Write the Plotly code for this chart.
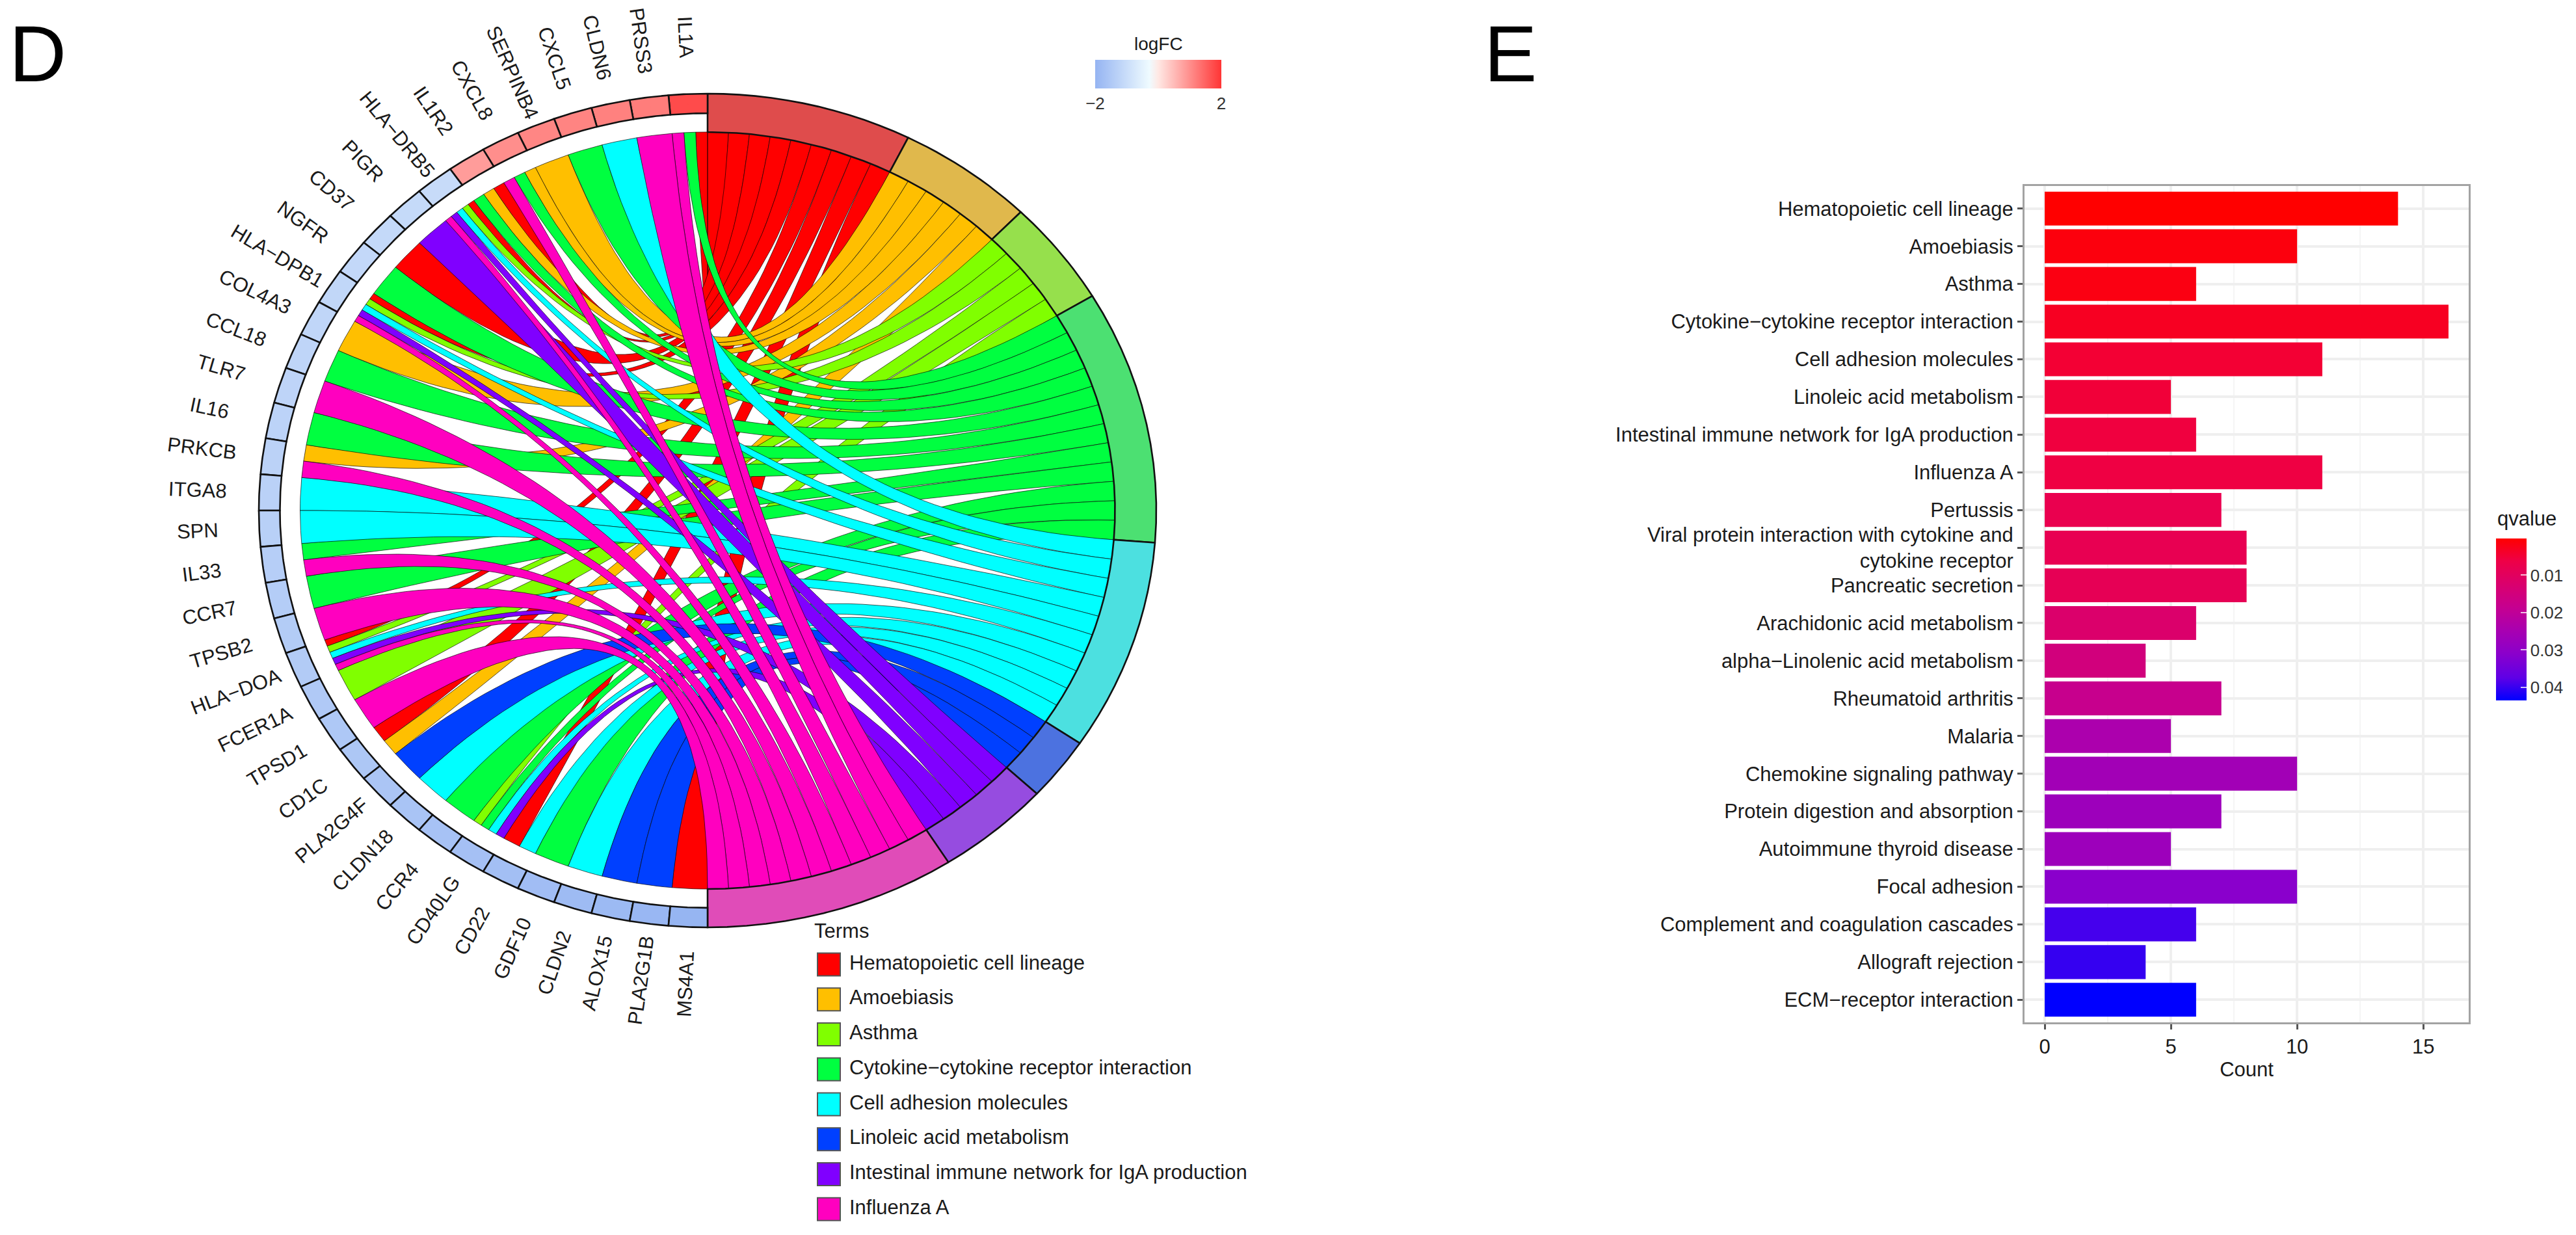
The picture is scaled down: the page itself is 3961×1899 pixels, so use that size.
import numpy as np
import plotly.graph_objects as go
from plotly.colors import sample_colorscale

W, H = 3961, 1899
FONT = "Liberation Sans"
TXT = "#1a1a1a"

# ---------- chord data ----------
genes = ["IL1A", "PRSS3", "CLDN6", "CXCL5", "SERPINB4", "CXCL8", "IL1R2", "HLA−DRB5", "PIGR", "CD37", "NGFR",
         "HLA−DPB1", "COL4A3", "CCL18", "TLR7", "IL16", "PRKCB", "ITGA8", "SPN", "IL33", "CCR7", "TPSB2",
         "HLA−DOA", "FCER1A", "TPSD1", "CD1C", "PLA2G4F", "CLDN18", "CCR4", "CD40LG", "CD22", "GDF10",
         "CLDN2", "ALOX15", "PLA2G1B", "MS4A1"]
logfc = [1.75, 1.2, 1.15, 1.12, 1.1, 1.0, 0.85,
         -1.05, -1.08, -1.1, -1.13, -1.15, -1.18, -1.2, -1.22, -1.25, -1.28, -1.3, -1.33, -1.36, -1.4, -1.42,
         -1.45, -1.48, -1.52, -1.55, -1.58, -1.62, -1.66, -1.7, -1.74, -1.78, -1.82, -1.86, -1.92, -1.98]
terms = ["Hematopoietic cell lineage", "Amoebiasis", "Asthma", "Cytokine−cytokine receptor interaction",
         "Cell adhesion molecules", "Linoleic acid metabolism", "Intestinal immune network for IgA production",
         "Influenza A"]
term_colors = ["#FF0000", "#FFBF00", "#80FF00", "#00FF40", "#00FFFF", "#0040FF", "#8000FF", "#FF00BF"]
ring_colors = ["#DF4C4C", "#E0B84C", "#96E04C", "#4CE072", "#4CE0E0", "#4C72E0", "#964CE0", "#E04CB8"]
hema = ["IL1A", "IL1R2", "HLA−DRB5", "CD37", "HLA−DPB1", "HLA−DOA", "CD1C", "CD22", "MS4A1"]
amoeb = ["SERPINB4", "CXCL8", "IL1R2", "COL4A3", "PRKCB", "CD1C"]
asthma = ["HLA−DRB5", "HLA−DPB1", "HLA−DOA", "FCER1A", "CD40LG"]
cytokine = ["IL1A", "CXCL5", "CXCL8", "IL1R2", "NGFR", "CCL18", "IL16", "IL33", "CCR7", "CCR4", "CD40LG", "GDF10"]
cam = ["CLDN6", "HLA−DRB5", "HLA−DPB1", "ITGA8", "SPN", "HLA−DOA", "CLDN18", "CD40LG", "CD22", "CLDN2"]
linoleic = ["PLA2G4F", "ALOX15", "PLA2G1B"]
iga = ["HLA−DRB5", "PIGR", "HLA−DPB1", "HLA−DOA", "CD40LG"]
flu = ["IL1A", "PRSS3", "CXCL8", "HLA−DRB5", "HLA−DPB1", "TLR7", "PRKCB", "IL33", "TPSB2", "HLA−DOA", "TPSD1"]
members = [hema, amoeb, asthma, cytokine, cam, linoleic, iga, flu]

# ---------- bar data ----------
bar_terms = ["Hematopoietic cell lineage", "Amoebiasis", "Asthma", "Cytokine−cytokine receptor interaction",
             "Cell adhesion molecules", "Linoleic acid metabolism", "Intestinal immune network for IgA production",
             "Influenza A", "Pertussis", "Viral protein interaction with cytokine and<br>cytokine receptor",
             "Pancreatic secretion", "Arachidonic acid metabolism", "alpha−Linolenic acid metabolism",
             "Rheumatoid arthritis", "Malaria", "Chemokine signaling pathway", "Protein digestion and absorption",
             "Autoimmune thyroid disease", "Focal adhesion", "Complement and coagulation cascades",
             "Allograft rejection", "ECM−receptor interaction"]
bar_count = [14, 10, 6, 16, 11, 5, 6, 11, 7, 8, 8, 6, 4, 7, 5, 10, 7, 5, 10, 6, 4, 6]
bar_q = [0.0001, 0.0012, 0.0016, 0.003, 0.0045, 0.005, 0.0055, 0.0058, 0.0075, 0.008, 0.0085, 0.012, 0.015,
         0.018, 0.024, 0.026, 0.027, 0.027, 0.031, 0.039, 0.04, 0.0434]
q_ticks = [0.01, 0.02, 0.03, 0.04]

logfc_scale = [[0, "#95B4F2"], [0.43, "#EFFBFF"], [0.5, "#FFE8E4"], [1, "#FF3535"]]
# low q (red) sits at the top of the colour bar, so the bar runs on -q
q_scale = [[0, "#0000FF"], [0.14, "#5F00E6"], [0.29, "#8B00CB"], [0.43, "#A800B1"],
           [0.57, "#C50091"], [0.71, "#D9006F"], [0.86, "#EE0047"], [1, "#FF0000"]]

R_OUT, R_GENE, R_IN = 1.0, 0.953, 0.908


def pt(t, r):
    t = np.radians(t)
    return r * np.sin(t), r * np.cos(t)


def arc(t0, t1, r, n=14):
    return pt(np.linspace(t0, t1, n), r)


def bez(p0, p1, n=50):
    s = np.linspace(0, 1, n)
    return (1 - s) ** 2 * p0[0] + s ** 2 * p1[0], (1 - s) ** 2 * p0[1] + s ** 2 * p1[1]


def cell(t0, t1, r0, r1):
    x0, y0 = arc(t0, t1, r1)
    x1, y1 = arc(t1, t0, r0)
    return np.r_[x0, x1, x0[0]], np.r_[y0, y1, y0[0]]


fig = go.Figure()
XA = dict(xaxis="x", yaxis="y")
n_g = len(genes)
n_s = sum(len(m) for m in members)
g_step = 180.0 / n_g
t_step = 180.0 / n_s

g_terms = {g: [i for i, m in enumerate(members) if g in m] for g in genes}

# ribbons
start = 0
term_spans = []
for ti, m in enumerate(members):
    term_spans.append((start * t_step, (start + len(m)) * t_step))
    ordered = [g for g in genes if g in m]
    for k, g in enumerate(ordered):
        b1, b2 = (start + k) * t_step, (start + k + 1) * t_step
        gi = genes.index(g)
        pos = g_terms[g].index(ti)
        w = g_step / len(g_terms[g])
        a1, a2 = -(gi * g_step + pos * w), -(gi * g_step + (pos + 1) * w)
        ax, ay = arc(a1, a2, R_IN, 6)
        tx, ty = arc(b2, b1, R_IN, 6)
        cx1, cy1 = bez(pt(a2, R_IN), pt(b2, R_IN))
        cx2, cy2 = bez(pt(b1, R_IN), pt(a1, R_IN))
        fig.add_trace(go.Scatter(x=np.r_[ax, cx1, tx, cx2], y=np.r_[ay, cy1, ty, cy2], mode="lines", fill="toself",
                                 fillcolor=term_colors[ti], line=dict(color="rgba(0,0,0,0.65)", width=1),
                                 hoverinfo="skip", showlegend=False, **XA))
    start += len(m)

# term ring
for ti, (t0, t1) in enumerate(term_spans):
    x, y = cell(t0, t1, R_IN, R_OUT)
    fig.add_trace(go.Scatter(x=x, y=y, mode="lines", fill="toself", fillcolor=ring_colors[ti],
                             line=dict(color="#111111", width=2.6), hoverinfo="skip", showlegend=False, **XA))

# gene ring + labels
gene_cols = sample_colorscale(logfc_scale, [(v + 2) / 4 for v in logfc])
RX, RY = 690.0, 641.0
R_LAB = 1.137
annots = []
for gi, g in enumerate(genes):
    x, y = cell(-gi * g_step, -(gi + 1) * g_step, R_GENE, R_OUT)
    fig.add_trace(go.Scatter(x=x, y=y, mode="lines", fill="toself", fillcolor=gene_cols[gi],
                             line=dict(color="#111111", width=2.6), hoverinfo="skip", showlegend=False, **XA))
    mid = -(gi + 0.5) * g_step
    lx, ly = pt(mid, R_LAB)
    ang = np.degrees(np.arctan2(RY * np.cos(np.radians(mid)), -RX * np.sin(np.radians(mid))))
    annots.append(dict(x=lx, y=ly, xref="x", yref="y", text=g, textangle=ang, showarrow=False,
                       xanchor="center", yanchor="middle", font=dict(family=FONT, size=31, color=TXT)))

# logFC scale: markers sit on the gene ring cells, they carry the colour bar
gx, gy = pt(-(np.arange(n_g) + 0.5) * g_step, (R_OUT + R_GENE) / 2)
fig.add_trace(go.Scatter(
    x=gx, y=gy, mode="markers", hoverinfo="skip", showlegend=False,
    marker=dict(size=2, color=logfc, colorscale=logfc_scale, cmin=-2, cmax=2, showscale=True,
                colorbar=dict(orientation="h", x=1684 / W, xanchor="left", y=1 - 92 / H, yanchor="top",
                              lenmode="pixels", len=194, thicknessmode="pixels", thickness=44,
                              xpad=0, ypad=0, outlinewidth=0, ticks="", tickvals=[-2, 2],
                              tickfont=dict(family=FONT, size=26, color="#333333"))),
    **XA))
annots.append(dict(x=1781 / W, y=1 - 67 / H, xref="paper", yref="paper", text="logFC", showarrow=False,
                   xanchor="center", yanchor="middle", font=dict(family=FONT, size=28, color=TXT)))

# Terms legend
fig.add_trace(go.Scatter(x=[34.5] * len(terms), y=terms, xaxis="x3", yaxis="y3", mode="markers", cliponaxis=False,
                         marker=dict(symbol="square", size=35, color=term_colors, line=dict(color="#555555", width=2)),
                         hoverinfo="skip", showlegend=False))
fig.add_trace(go.Scatter(x=[66] * len(terms), y=terms, xaxis="x3", yaxis="y3", mode="text", cliponaxis=False,
                         text=terms, textposition="middle right",
                         textfont=dict(family=FONT, size=31, color=TXT), hoverinfo="skip", showlegend=False))
annots.append(dict(x=1250 / W, y=1 - 1431 / H, xref="paper", yref="paper", text="Terms", showarrow=False,
                   xanchor="left", yanchor="middle", font=dict(family=FONT, size=31, color=TXT)))

# bars
fig.add_trace(go.Bar(x=bar_count, y=bar_terms, orientation="h", xaxis="x2", yaxis="y2", width=0.9,
                     marker=dict(color=[-q for q in bar_q], colorscale=q_scale, cmin=-0.0434, cmax=-0.0001,
                                 line=dict(width=0),
                                 colorbar=dict(x=3838 / W, xanchor="left", y=1 - 952 / H, yanchor="middle",
                                               lenmode="pixels", len=249, thicknessmode="pixels", thickness=47,
                                               xpad=0, ypad=0, outlinewidth=0, ticks="inside", ticklen=9,
                                               tickcolor="rgba(255,255,255,0.75)", tickwidth=2,
                                               tickvals=[-q for q in q_ticks], ticktext=[f"{q:.2f}" for q in q_ticks],
                                               tickfont=dict(family=FONT, size=26, color="#333333"))),
                     hoverinfo="skip", showlegend=False))
annots.append(dict(x=3838 / W, y=1 - 797 / H, xref="paper", yref="paper", text="qvalue", showarrow=False,
                   xanchor="left", yanchor="middle", font=dict(family=FONT, size=31, color=TXT)))

# panel letters
for letter, lx, ly in [("D", 12, 83), ("E", 2280, 83)]:
    annots.append(dict(x=lx / W, y=1 - ly / H, xref="paper", yref="paper", text=letter, showarrow=False,
                       xanchor="left", yanchor="middle", font=dict(family=FONT, size=122, color="black")))

GRID = "#EFEFEF"
hidden = dict(visible=False, showgrid=False, zeroline=False)
CX, CY = 1088, 785
fig.update_layout(
    width=W, height=H, margin=dict(l=0, r=0, t=0, b=0), autosize=False,
    paper_bgcolor="white", plot_bgcolor="white", bargap=0.1, annotations=annots,
    xaxis=dict(domain=[(CX - 1.5 * RX) / W, (CX + 1.5 * RX) / W], range=[-1.5, 1.5], **hidden),
    yaxis=dict(domain=[1 - (CY + 1.2 * RY) / H, 1 - (CY - 1.2 * RY) / H], range=[-1.2, 1.2], **hidden),
    xaxis3=dict(domain=[1240 / W, 1950 / W], range=[0, 710], **hidden),
    yaxis3=dict(domain=[1 - 1886 / H, 1 - 1456 / H], type="category", categoryorder="array", categoryarray=terms,
                range=[7.5, -0.5], **hidden),
    xaxis2=dict(domain=[3113 / W, 3796 / W], anchor="y2", range=[-0.8, 16.8], tickvals=[0, 5, 10, 15],
                showgrid=True, gridcolor=GRID, gridwidth=3.5, zeroline=False,
                minor=dict(tickvals=[2.5, 7.5, 12.5], showgrid=True, gridcolor="#F5F5F5", gridwidth=2, ticks=""),
                showline=True, mirror=True, linecolor="#A3A3A3", linewidth=3,
                ticks="outside", ticklen=8, tickwidth=3, tickcolor="#555555",
                tickfont=dict(family=FONT, size=31, color=TXT),
                title=dict(text="Count", font=dict(family=FONT, size=31, color=TXT), standoff=8)),
    yaxis2=dict(domain=[1 - 1572 / H, 1 - 286 / H], anchor="x2", type="category", categoryorder="array",
                categoryarray=bar_terms, range=[21.6, -0.6], showgrid=True, gridcolor=GRID, gridwidth=4,
                zeroline=False, showline=True, mirror=True, linecolor="#A3A3A3", linewidth=3,
                ticks="outside", ticklen=8, tickwidth=3, tickcolor="#555555",
                tickfont=dict(family=FONT, size=31, color=TXT)),
)
fig.write_html("out.html", include_plotlyjs=True, config=dict(displayModeBar=False),
               post_script="document.body.style.margin='0';")
